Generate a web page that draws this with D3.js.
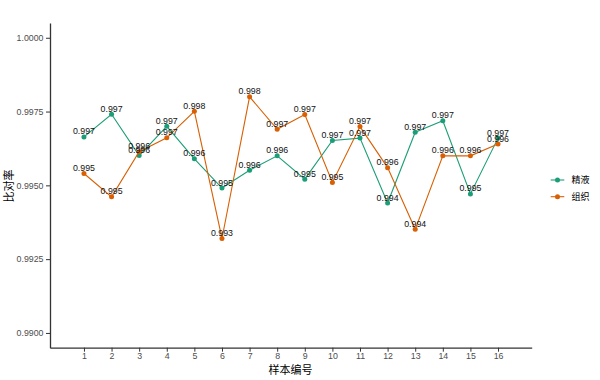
<!DOCTYPE html>
<html><head><meta charset="utf-8">
<script src="https://cdn.jsdelivr.net/npm/d3@7"></script>
<style>body{margin:0;background:#fff;} svg{display:block;}</style>
</head><body>
<script>
const samples = [1,2,3,4,5,6,7,8,9,10,11,12,13,14,15,16];
const seriesNames = ["精液","组织"];
const semen = [0.99664,0.99741,0.99601,0.99700,0.99590,0.99491,0.99551,0.99600,0.99521,0.99652,0.99660,0.99440,0.99680,0.99719,0.99471,0.99660];
const tissue = [0.99540,0.99461,0.99614,0.99661,0.99751,0.99320,0.99800,0.99690,0.99740,0.99510,0.99699,0.99560,0.99351,0.99600,0.99600,0.99640];
const yTicks = [0.99,0.9925,0.995,0.9975,1.0];
const colors = ["#1b9e77","#d95f02"];

const W=600,H=380;
const svg=d3.select("body").append("svg").attr("width",W).attr("height",H);
const font="Liberation Sans, Arial, sans-serif";
const cjk="Noto Sans CJK SC, sans-serif";
const x=d3.scaleLinear().domain([-0.23,17.22]).range([50,531.7]);
const y=d3.scaleLinear().domain([0.9895,1.0005]).range([347.7,23]);

// axes
const yAxis=svg.append("g").attr("transform","translate(50,0)")
  .call(d3.axisLeft(y).tickValues(yTicks).tickFormat(d3.format(".4f")).tickSize(4).tickSizeOuter(0));
const xAxis=svg.append("g").attr("transform","translate(0,347.7)")
  .call(d3.axisBottom(x).tickValues(samples).tickFormat(d3.format("d")).tickSize(4).tickSizeOuter(0));
[yAxis,xAxis].forEach(g=>{
  g.select(".domain").attr("stroke","#333").attr("stroke-width",1.3);
  g.selectAll(".tick line").attr("stroke","#333").attr("stroke-width",1);
  g.selectAll(".tick text").attr("fill","#4d4d4d").style("font-family",font).style("font-size","8.8px");
});
yAxis.selectAll(".tick text").attr("x",-6.5);
xAxis.selectAll(".tick text").attr("y",5.5);

const data=[semen,tissue];
data.forEach((vals,i)=>{
  const pts=samples.map((s,j)=>({s,v:vals[j]}));
  svg.append("path").datum(pts).attr("fill","none").attr("stroke",colors[i]).attr("stroke-width",1.1)
    .attr("d",d3.line().x(d=>x(d.s)).y(d=>y(d.v)));
  svg.selectAll(null).data(pts).enter().append("circle")
    .attr("cx",d=>x(d.s)).attr("cy",d=>y(d.v)).attr("r",2.5).attr("fill",colors[i]);
});
data.forEach((vals,i)=>{
  const pts=samples.map((s,j)=>({s,v:vals[j]}));
  svg.selectAll(null).data(pts).enter().append("text")
    .attr("x",d=>x(d.s)).attr("y",d=>y(d.v)-2.5).attr("text-anchor","middle")
    .style("font-family",font).style("font-size","8.8px").attr("fill","#111")
    .text(d=>d3.format(".3f")(d.v));
});

// axis titles
svg.append("text").attr("x",290.5).attr("y",373.5).attr("text-anchor","middle")
  .style("font-family",cjk).style("font-size","11px").attr("fill","#000").text("样本编号");
svg.append("text").attr("transform","translate(13,186) rotate(-90)").attr("text-anchor","middle")
  .style("font-family",cjk).style("font-size","11px").attr("fill","#000").text("比对率");

// legend
seriesNames.forEach((n,i)=>{
  const ly=180+i*16.7;
  svg.append("line").attr("x1",550.7).attr("x2",564.3).attr("y1",ly).attr("y2",ly).attr("stroke",colors[i]).attr("stroke-width",1.1);
  svg.append("circle").attr("cx",557.5).attr("cy",ly).attr("r",2.5).attr("fill",colors[i]);
  svg.append("text").attr("x",571.5).attr("y",ly+3.3).style("font-family",cjk)
    .style("font-size","9px").attr("fill","#000").text(n);
});
</script>
</body></html>
